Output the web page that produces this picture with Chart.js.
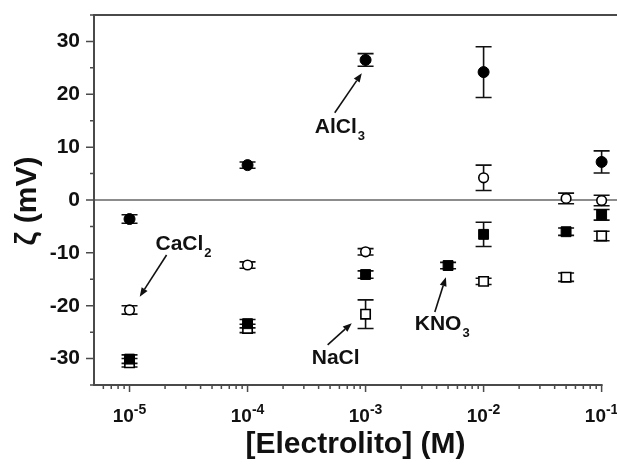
<!DOCTYPE html>
<html><head><meta charset="utf-8">
<script src="https://cdn.jsdelivr.net/npm/chart.js@4.4.1/dist/chart.umd.min.js"></script>
<style>html,body{margin:0;padding:0;background:#fff}#wrap{width:617px;height:464px}</style>
</head><body><div id="wrap"><canvas id="c" width="617" height="464"></canvas></div>
<script>
// ---- data (concentration in M, zeta potential in mV, error bar half-length in mV)
const concAlCl3 = [1e-5, 1e-4, 1e-3, 1e-2, 1e-1];
const zetaAlCl3 = [-3.6, 6.6, 26.5, 24.2, 7.2];
const errAlCl3  = [0.8, 0.6, 1.2, 4.8, 2.1];

const concCaCl2 = [1e-5, 1e-4, 1e-3, 1e-2, 5e-2, 1e-1];
const zetaCaCl2 = [-20.8, -12.3, -9.8, 4.2, 0.3, -0.1];
const errCaCl2  = [0.8, 0.6, 0.6, 2.4, 1.0, 1.0];

const concKNO3 = [1e-5, 1e-4, 1e-3, 5e-3, 1e-2, 5e-2, 1e-1];
const zetaKNO3 = [-30.1, -23.4, -14.1, -12.4, -6.5, -6.0, -2.8];
const errKNO3  = [0.8, 0.8, 0.7, 0.6, 2.3, 0.7, 1.0];

const concNaCl = [1e-5, 1e-4, 1e-3, 1e-2, 5e-2, 1e-1];
const zetaNaCl = [-30.8, -24.3, -21.6, -15.4, -14.6, -6.8];
const errNaCl  = [0.8, 0.8, 2.7, 0.6, 0.8, 0.9];

// ---- axes
const xTickValues = [1e-5, 1e-4, 1e-3, 1e-2, 1e-1];
const xTickExponents = ['-5', '-4', '-3', '-2', '-1'];
const yTickValues = [-30, -20, -10, 0, 10, 20, 30];
const yMinorValues = [-35, -25, -15, -5, 5, 15, 25, 35];
const xTitle = '[Electrolito] (M)';
const yTitle = 'ζ (mV)';

// ---- annotations (label left/baseline and arrow tail->head, in data units)
const annText  = ['AlCl', 'CaCl', 'NaCl', 'KNO'];
const annSub   = ['3', '2', '', '3'];
const annLabelX = [3.71e-4, 1.66e-5, 3.50e-4, 2.61e-3];
const annLabelY = [12.7, -9.5, -31.0, -24.6];
const annTailX = [5.48e-4, 2.06e-5, 4.77e-4, 3.86e-3];
const annTailY = [16.5, -10.4, -27.4, -21.2];
const annHeadX = [9.29e-4, 1.22e-5, 7.64e-4, 4.79e-3];
const annHeadY = [24.0, -18.3, -23.3, -14.6];

const FONT = '"Liberation Sans", Arial, sans-serif';
const LINE = '#4a4a4a';

function pts(xs, ys) { return xs.map((x, i) => ({x: x, y: ys[i]})); }
const errs = [errAlCl3, errCaCl2, errKNO3, errNaCl];

const decor = {
  id: 'decor',
  beforeDatasetsDraw(chart) {
    const ctx = chart.ctx, a = chart.chartArea;
    const xs = chart.scales.x, ys = chart.scales.y;
    ctx.save();
    // zero line
    ctx.strokeStyle = '#666'; ctx.lineWidth = 1.5;
    const y0 = ys.getPixelForValue(0);
    ctx.beginPath(); ctx.moveTo(a.left, y0); ctx.lineTo(a.right, y0); ctx.stroke();
    // error bars
    ctx.strokeStyle = '#111'; ctx.lineWidth = 1.6;
    chart.data.datasets.forEach((ds, di) => {
      ds.data.forEach((p, i) => {
        const e = errs[di][i];
        const px = xs.getPixelForValue(p.x);
        const pt = ys.getPixelForValue(p.y + e), pb = ys.getPixelForValue(p.y - e);
        ctx.beginPath();
        ctx.moveTo(px, pt); ctx.lineTo(px, pb);
        ctx.moveTo(px - 8, pt); ctx.lineTo(px + 8, pt);
        ctx.moveTo(px - 8, pb); ctx.lineTo(px + 8, pb);
        ctx.stroke();
      });
    });
    ctx.restore();
  },
  afterDraw(chart) {
    const ctx = chart.ctx, a = chart.chartArea;
    const xs = chart.scales.x, ys = chart.scales.y;
    ctx.save();
    // frame
    ctx.strokeStyle = LINE; ctx.lineWidth = 2;
    const xEnd = xs.getPixelForValue(1e-1) + 1;
    ctx.beginPath();
    ctx.moveTo(a.left, a.top); ctx.lineTo(a.right, a.top);
    ctx.moveTo(a.left, a.top - 1); ctx.lineTo(a.left, a.bottom + 1);
    ctx.moveTo(a.left - 1, a.bottom); ctx.lineTo(xEnd, a.bottom);
    ctx.stroke();
    // y ticks
    ctx.lineWidth = 1.5;
    ctx.beginPath();
    yTickValues.forEach(v => { const p = ys.getPixelForValue(v); ctx.moveTo(a.left, p); ctx.lineTo(a.left - 8, p); });
    yMinorValues.forEach(v => { const p = ys.getPixelForValue(v); ctx.moveTo(a.left, p); ctx.lineTo(a.left - 4, p); });
    // x ticks
    for (let d = -6; d <= -1; d++) {
      for (let m = 1; m <= 9; m++) {
        const v = m * Math.pow(10, d);
        if (v < xs.min || v > 0.1 * 1.0001) continue;
        const p = xs.getPixelForValue(v);
        ctx.moveTo(p, a.bottom); ctx.lineTo(p, a.bottom + (m === 1 ? 7 : 4));
      }
    }
    ctx.stroke();
    // x tick labels
    ctx.fillStyle = '#111';
    ctx.textBaseline = 'alphabetic';
    xTickValues.forEach((v, i) => {
      const p = xs.getPixelForValue(v);
      ctx.font = 'bold 19px ' + FONT;
      const w1 = ctx.measureText('10').width;
      ctx.font = 'bold 14px ' + FONT;
      const w2 = ctx.measureText(xTickExponents[i]).width;
      const left = p - (w1 + w2) / 2;
      ctx.font = 'bold 19px ' + FONT; ctx.textAlign = 'left';
      ctx.fillText('10', left, 422);
      ctx.font = 'bold 14px ' + FONT;
      ctx.fillText(xTickExponents[i], left + w1, 414);
    });
    // axis titles
    ctx.font = 'bold 30px ' + FONT; ctx.textAlign = 'center';
    ctx.fillText(xTitle, (a.left + a.right) / 2, 453);
    ctx.save();
    ctx.translate(36, (a.top + a.bottom) / 2 + 1);
    ctx.rotate(-Math.PI / 2);
    ctx.font = 'bold 30px ' + FONT;
    ctx.fillText(yTitle, 0, 0);
    ctx.restore();
    // annotations
    ctx.strokeStyle = '#111'; ctx.fillStyle = '#111'; ctx.lineWidth = 1.6;
    annText.forEach((t, i) => {
      const lx = xs.getPixelForValue(annLabelX[i]), ly = ys.getPixelForValue(annLabelY[i]);
      ctx.textAlign = 'left';
      ctx.font = 'bold 21px ' + FONT;
      ctx.fillText(t, lx, ly);
      const w = ctx.measureText(t).width;
      if (annSub[i]) { ctx.font = 'bold 13px ' + FONT; ctx.fillText(annSub[i], lx + w + 1, ly + 7); }
      const tx = xs.getPixelForValue(annTailX[i]), ty = ys.getPixelForValue(annTailY[i]);
      const hx = xs.getPixelForValue(annHeadX[i]), hy = ys.getPixelForValue(annHeadY[i]);
      const ang = Math.atan2(hy - ty, hx - tx);
      const hl = 9, hw = 3.5;
      const bx = hx - hl * Math.cos(ang), by = hy - hl * Math.sin(ang);
      ctx.beginPath(); ctx.moveTo(tx, ty); ctx.lineTo(bx, by); ctx.stroke();
      ctx.beginPath();
      ctx.moveTo(hx, hy);
      ctx.lineTo(bx + hw * Math.sin(ang), by - hw * Math.cos(ang));
      ctx.lineTo(bx - hw * Math.sin(ang), by + hw * Math.cos(ang));
      ctx.closePath(); ctx.fill();
    });
    ctx.restore();
  }
};

new Chart(document.getElementById('c'), {
  type: 'scatter',
  data: {
    datasets: [
      {label: 'AlCl3', data: pts(concAlCl3, zetaAlCl3), pointStyle: 'circle', pointRadius: 5.5,
       backgroundColor: '#000', borderColor: '#000', borderWidth: 1},
      {label: 'CaCl2', data: pts(concCaCl2, zetaCaCl2), pointStyle: 'circle', pointRadius: 4.8,
       backgroundColor: '#fff', borderColor: '#000', borderWidth: 1.6},
      {label: 'KNO3', data: pts(concKNO3, zetaKNO3), pointStyle: 'rect', pointRadius: 7,
       backgroundColor: '#000', borderColor: '#000', borderWidth: 1},
      {label: 'NaCl', data: pts(concNaCl, zetaNaCl), pointStyle: 'rect', pointRadius: 6.6,
       backgroundColor: '#fff', borderColor: '#000', borderWidth: 1.6}
    ]
  },
  options: {
    responsive: false,
    animation: false,
    devicePixelRatio: 1,
    layout: {autoPadding: false, padding: {top: 15, left: 0, right: 0, bottom: 0}},
    plugins: {legend: {display: false}, tooltip: {enabled: false}},
    scales: {
      x: {
        type: 'logarithmic', min: 5e-6, max: 0.135,
        grid: {display: false}, border: {display: false},
        ticks: {display: false},
        afterBuildTicks: s => { s.ticks = xTickValues.map(v => ({value: v})); },
        afterFit: s => { s.height = 79; s.paddingLeft = 0; s.paddingRight = 0; s.paddingTop = 0; s.paddingBottom = 0; }
      },
      y: {
        type: 'linear', min: -35, max: 35,
        grid: {display: false, drawTicks: false}, border: {display: false},
        ticks: {color: '#111', padding: 14, font: {family: FONT, size: 21, weight: 'bold'}},
        afterBuildTicks: s => { s.ticks = yTickValues.map(v => ({value: v})); },
        afterFit: s => { s.width = 94; s.paddingLeft = 0; s.paddingRight = 0; s.paddingTop = 0; s.paddingBottom = 0; }
      }
    }
  },
  plugins: [decor]
});
</script>
</body></html>
